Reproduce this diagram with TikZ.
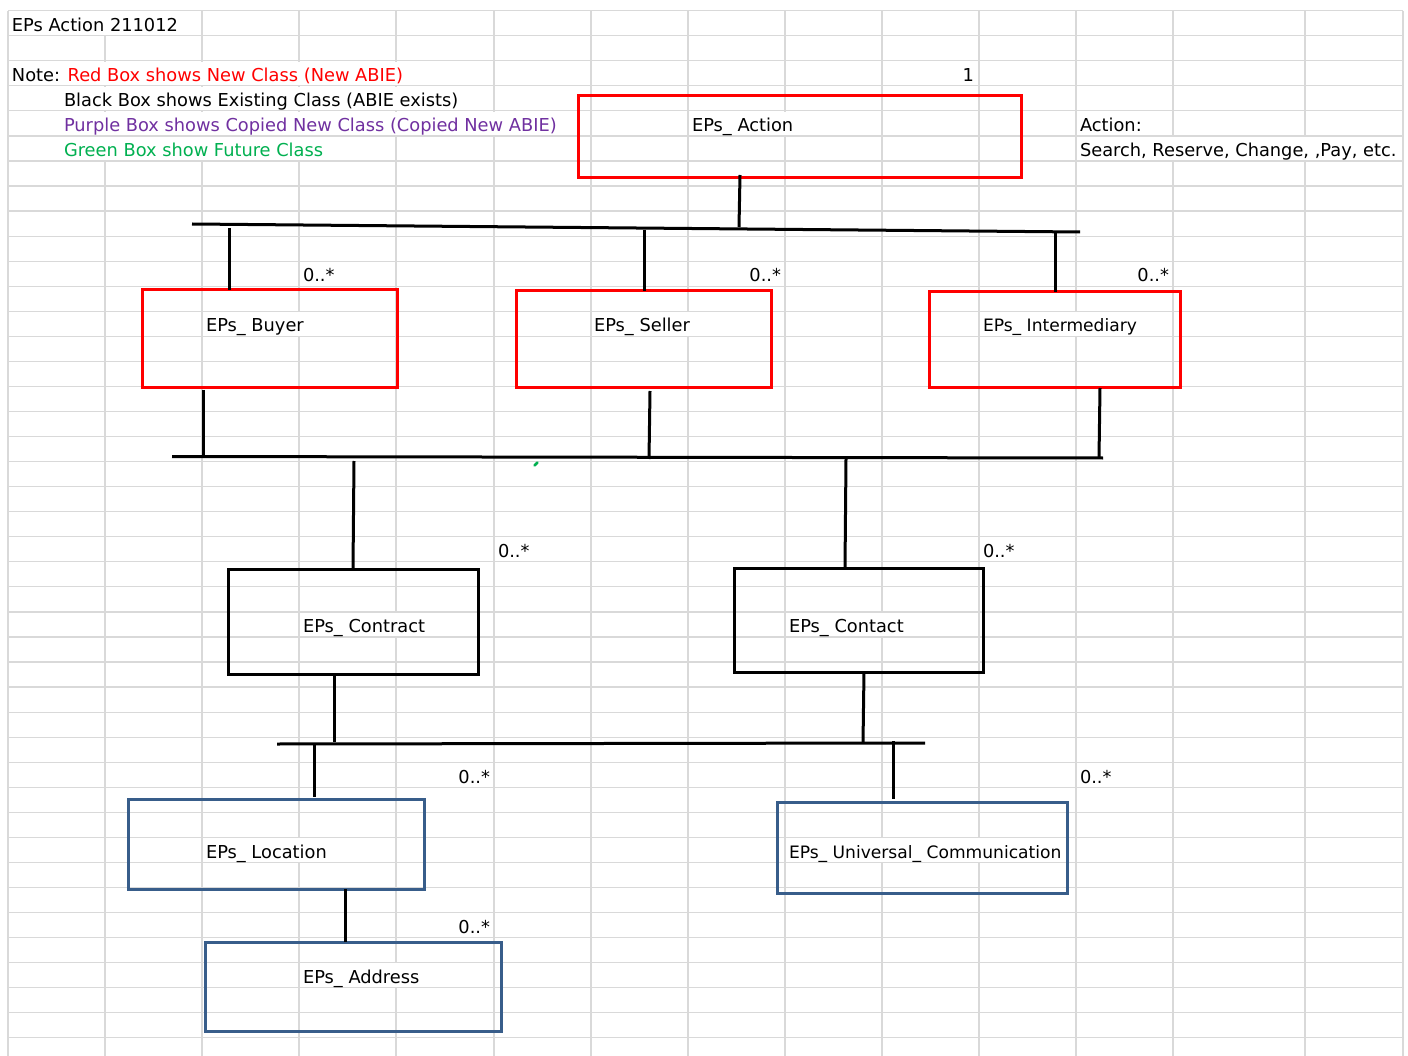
\documentclass[tikz,border=0pt]{standalone}
\usepackage{fontspec}
\setmainfont{DejaVu Sans}
\definecolor{gridgray}{HTML}{D9D9D9}
\definecolor{xlred}{HTML}{FF0000}
\definecolor{xlpurple}{HTML}{7030A0}
\definecolor{xlgreen}{HTML}{00B050}
\definecolor{boxblue}{HTML}{385D8A}
\newcommand\xlfont{\fontsize{17.8pt}{20pt}\selectfont}
\newcommand\xlfontn{\fontsize{17.1pt}{20pt}\selectfont}
% white mask hiding grid lines under overflowing cell text: x1, x2, row index
\newcommand\cellmask[3]{\fill[white] ({#1+0.8},{10.7+25.05*#3+0.8}) rectangle ({#2-0.8},{10.7+25.05*(#3+1)-0.8});}
\begin{document}
\begin{tikzpicture}[x=1pt,y=-1pt,
  grid/.style={draw=gridgray,line width=1.2pt},
  cls/.style={line width=3pt,inner sep=0pt,outer sep=0pt,anchor=north west},
  newcls/.style={cls,draw=xlred},
  oldcls/.style={cls,draw=black},
  copycls/.style={cls,draw=boxblue},
  lbl/.style={anchor=base west,inner sep=0pt,outer sep=0pt,font=\xlfont},
  lblr/.style={lbl,anchor=base east},
  conn/.style={line width=3pt,black},
]
\useasboundingbox (0,0) rectangle (1408,1056);
\fill[white] (0,0) rectangle (1408,1056);

% ---------- spreadsheet grid ----------
\foreach \k in {0,...,41}
  \draw[grid] (8,{10.7+25.05*\k}) -- (1403,{10.7+25.05*\k});
\foreach \x in {8,105,202,299,396,494,591,688,785,882,979,1076,1173,1305,1403}
  \draw[grid] (\x,10.7) -- (\x,1056);

% grid lines hidden by overflowing text
\cellmask{8}{202}{0}
\cellmask{8}{494}{2}
\cellmask{8}{494}{3}
\cellmask{8}{591}{4}
\cellmask{688}{882}{4}
\cellmask{8}{396}{5}
\cellmask{1076}{1403}{5}
\cellmask{202}{396}{12}
\cellmask{591}{785}{12}
\cellmask{979}{1173}{12}
\cellmask{299}{494}{24}
\cellmask{785}{979}{24}
\cellmask{202}{396}{33}
\cellmask{785}{1076}{33}
\cellmask{299}{494}{38}

% ---------- header texts ----------
\node[lbl] (title) at (12,31.5) {EPs Action 211012};
\node[lbl] (note) at (12,81.5) {Note: \textcolor{xlred}{Red Box shows New Class (New ABIE)}};
\node[lbl] (noteblack) at (64,106.5) {Black Box shows Existing Class (ABIE exists)};
\node[lbl,text=xlpurple] (notepurple) at (64,131.5) {Purple Box shows Copied New Class (Copied New ABIE)};
\node[lbl,text=xlgreen] (notegreen) at (64,156.5) {Green Box show Future Class};
\node[lblr] (one) at (974,81.5) {1};
\node[lbl] (acthead) at (1080,131.5) {Action:};
\node[lbl] (actlist) at (1080,156.5) {Search, Reserve, Change, ,Pay, etc.};

% ---------- class boxes ----------
\node[newcls,minimum width=443pt,minimum height=82pt] (action) at (578,96) {};
\node[newcls,minimum width=255pt,minimum height=98pt] (buyer) at (142,290) {};
\node[newcls,minimum width=255pt,minimum height=97pt] (seller) at (516,291) {};
\node[newcls,minimum width=251pt,minimum height=96pt] (inter) at (929,292) {};
\node[oldcls,minimum width=250pt,minimum height=105pt] (contract) at (228,569) {};
\node[oldcls,minimum width=249pt,minimum height=104pt] (contact) at (734,568) {};
\node[copycls,minimum width=296pt,minimum height=90pt] (location) at (128,799) {};
\node[copycls,minimum width=290pt,minimum height=91pt] (ucomm) at (777,802) {};
\node[copycls,minimum width=296pt,minimum height=89pt] (address) at (205,942) {};

% box labels
\node[lbl] (actionL) at (692,131.5) {EPs\_ Action};
\node[lbl] (buyerL) at (206,332) {EPs\_ Buyer};
\node[lbl] (sellerL) at (594,332) {EPs\_ Seller};
\node[lbl,font=\xlfontn] (interL) at (983,332) {EPs\_ Intermediary};
\node[lbl] (contractL) at (303,632.5) {EPs\_ Contract};
\node[lbl] (contactL) at (789,632.5) {EPs\_ Contact};
\node[lbl] (locationL) at (206,858) {EPs\_ Location};
\node[lbl,font=\xlfontn] (ucommL) at (789,858) {EPs\_ Universal\_ Communication};
\node[lbl] (addressL) at (303,983.5) {EPs\_ Address};

% multiplicities
\node[lbl] (mBuyer) at (303,282) {0..*};
\node[lblr] (mSeller) at (781,282) {0..*};
\node[lblr] (mInter) at (1169,282) {0..*};
\node[lbl] (mContract) at (498,557.5) {0..*};
\node[lbl] (mContact) at (983,557.5) {0..*};
\node[lblr] (mLocation) at (490,783) {0..*};
\node[lbl] (mUcomm) at (1080,783) {0..*};
\node[lblr] (mAddress) at (490,933) {0..*};

% ---------- connector coordinates ----------
\coordinate (aS) at (740,175);   \coordinate (aB) at (739,227);
\coordinate (bar1W) at (192,224); \coordinate (bar1E) at (1080,232);
\coordinate (buyT1) at (229,228); \coordinate (buyT2) at (229,290);
\coordinate (selT1) at (644,230); \coordinate (selT2) at (644,291);
\coordinate (intT1) at (1055,232); \coordinate (intT2) at (1055,292);
\coordinate (buyB1) at (203,390); \coordinate (buyB2) at (203,457);
\coordinate (selB1) at (650,391); \coordinate (selB2) at (649,459);
\coordinate (intB1) at (1100,388); \coordinate (intB2) at (1099,458);
\coordinate (bar2W) at (172,456.5); \coordinate (bar2E) at (1103,458);
\coordinate (conT1) at (354,461); \coordinate (conT2) at (353,569);
\coordinate (ctcT1) at (846,459); \coordinate (ctcT2) at (845,568);
\coordinate (conB1) at (334,674); \coordinate (conB2) at (334,742);
\coordinate (ctcB1) at (864,672); \coordinate (ctcB2) at (863,743);
\coordinate (bar3W) at (277,744); \coordinate (bar3E) at (925,743);
\coordinate (locT1) at (314,743); \coordinate (locT2) at (314,797);
\coordinate (ucT1) at (893,741); \coordinate (ucT2) at (893,799);
\coordinate (adrT1) at (345,889); \coordinate (adrT2) at (345,942);

\draw[conn] (aS) -- (aB);
\draw[conn] (bar1W) -- (bar1E);
\draw[conn] (buyT1) -- (buyT2);
\draw[conn] (selT1) -- (selT2);
\draw[conn] (intT1) -- (intT2);
\draw[conn] (buyB1) -- (buyB2);
\draw[conn] (selB1) -- (selB2);
\draw[conn] (intB1) -- (intB2);
\draw[conn] (bar2W) -- (bar2E);
\draw[conn] (conT1) -- (conT2);
\draw[conn] (ctcT1) -- (ctcT2);
\draw[conn] (conB1) -- (conB2);
\draw[conn] (ctcB1) -- (ctcB2);
\draw[conn] (bar3W) -- (bar3E);
\draw[conn] (locT1) -- (locT2);
\draw[conn] (ucT1) -- (ucT2);
\draw[conn] (adrT1) -- (adrT2);

% stray green mark
\coordinate (gd1) at (534.5,465.5); \coordinate (gd2) at (537.5,462.5);
\draw[xlgreen,line width=2.5pt,line cap=round] (gd1) -- (gd2);
\end{tikzpicture}
\end{document}
